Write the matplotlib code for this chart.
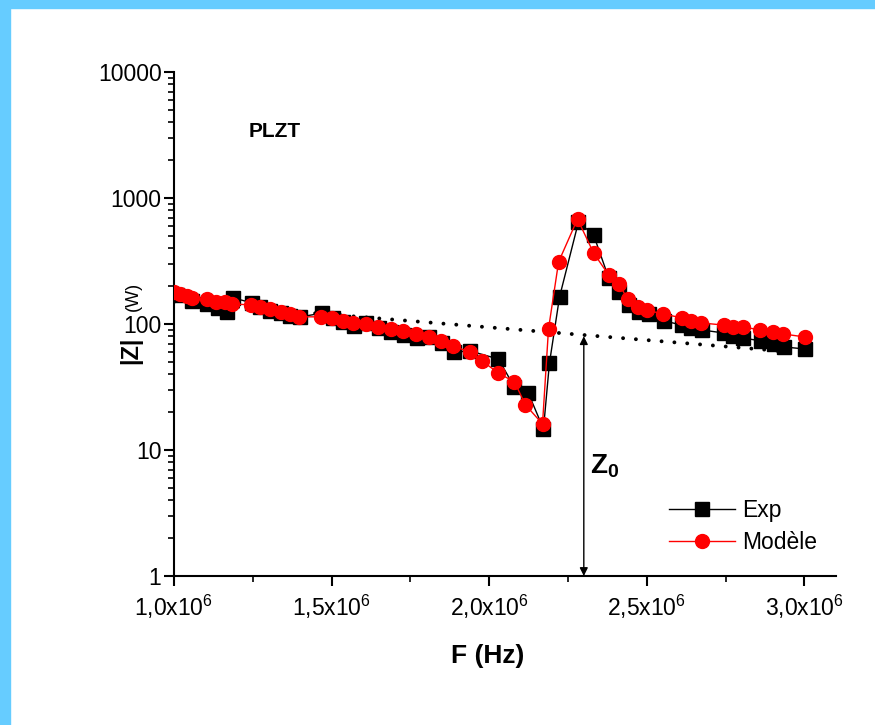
import numpy as np
import matplotlib
matplotlib.use("Agg")
import matplotlib.pyplot as plt
from matplotlib.patches import Rectangle
from matplotlib.ticker import FixedLocator, FuncFormatter, LogLocator, NullFormatter

plt.rcParams['font.family'] = ['Liberation Sans', 'DejaVu Sans']
plt.rcParams['mathtext.fontset'] = 'custom'
plt.rcParams['mathtext.rm'] = 'Liberation Sans'
plt.rcParams['mathtext.bf'] = 'Liberation Sans:bold'

# measured impedance (MHz, ohm)
f_exp = [1.010, 1.057, 1.105, 1.140, 1.169, 1.188, 1.248, 1.274, 1.306, 1.338,
         1.369, 1.401, 1.471, 1.503, 1.535, 1.570, 1.608, 1.650, 1.688, 1.729,
         1.771, 1.809, 1.850, 1.889, 1.939, 2.029, 2.080, 2.124, 2.172, 2.191,
         2.223, 2.283, 2.331, 2.379, 2.411, 2.443, 2.475, 2.506, 2.554, 2.611,
         2.640, 2.675, 2.745, 2.774, 2.806, 2.863, 2.904, 2.936, 3.003]
z_exp = [170, 152, 144, 134, 124.5, 161, 147, 136, 127, 122,
         116, 114, 122, 112, 104, 96.4, 102, 93, 86.4, 81.8,
         77.4, 78.8, 70.7, 59.9, 61.1, 52.7, 31.6, 28.3, 14.7, 49,
         164, 645, 509, 232, 179.5, 142, 124.5, 120, 106, 98,
         93, 89.6, 84.8, 80.3, 77.4, 73.3, 69.4, 65.7, 63.3]

# model
f_mod = [1.000, 1.019, 1.041, 1.057, 1.105, 1.134, 1.162, 1.185, 1.245, 1.274,
         1.306, 1.338, 1.369, 1.398, 1.465, 1.500, 1.535, 1.567, 1.608, 1.646,
         1.688, 1.726, 1.768, 1.809, 1.847, 1.885, 1.939, 1.978, 2.029, 2.080,
         2.115, 2.169, 2.188, 2.220, 2.280, 2.331, 2.379, 2.411, 2.439, 2.471,
         2.500, 2.551, 2.611, 2.640, 2.672, 2.745, 2.774, 2.806, 2.860, 2.901,
         2.933, 3.003]
z_mod = [179.5, 173, 167, 161, 158, 150, 150, 144, 142, 136,
         132, 124.5, 120, 114, 114, 112, 106, 102, 100, 94.7,
         91.3, 88, 83.3, 78.8, 73.3, 66.9, 59.9, 50.8, 40.8, 34.7,
         22.8, 16.1, 91.3, 311, 681, 366, 245, 208, 158, 136,
         129, 120, 112, 106, 102, 98, 94.7, 94.7, 89.6, 86.4,
         83.3, 78.8]

# static impedance baseline
f_base = [1.0, 3.0]
z_base = [150, 59]

f_z0 = 2.3
z0_top = 80

fig = plt.figure(figsize=(8.75, 7.25), dpi=100)
fig.patches.append(Rectangle((0, 0), 10 / 875, 1, transform=fig.transFigure,
                             color='#66ccff', zorder=0))
fig.patches.append(Rectangle((0, 1 - 8 / 725), 1, 8 / 725, transform=fig.transFigure,
                             color='#66ccff', zorder=0))

ax = fig.add_axes([174 / 875, 1 - 576 / 725, 662 / 875, 504 / 725])
ax.set_yscale('log')

fe = np.array(f_exp) * 1e6
fm = np.array(f_mod) * 1e6
ax.plot(fe, z_exp, '-s', color='black', lw=1, ms=10.5, label='Exp', zorder=3)
ax.plot(fm, z_mod, '-o', color='red', lw=1, ms=10, label='Modèle', zorder=4)
ax.plot(np.array(f_base) * 1e6, z_base, color='black', lw=2.8,
        linestyle=(0, (0.01, 3.3)), dash_capstyle='round', zorder=2)

ax.annotate('', xy=(f_z0 * 1e6, z0_top), xytext=(f_z0 * 1e6, 1),
            arrowprops=dict(arrowstyle='<|-|>', color='black', lw=1,
                            mutation_scale=12, shrinkA=0, shrinkB=0))
ax.text(f_z0 * 1e6 + 0.02e6, 10 ** 0.87, r'$\mathbf{Z_0}$', fontsize=20,
        ha='left', va='center')

ax.text(1.32e6, 10 ** 3.53, 'PLZT', fontsize=15, fontweight='bold',
        ha='center', va='center')

ax.set_xlim(1.0e6, 3.1e6)
ax.set_ylim(1, 10000)

ax.xaxis.set_major_locator(FixedLocator([1.0e6, 1.5e6, 2.0e6, 2.5e6, 3.0e6]))
ax.xaxis.set_minor_locator(FixedLocator([1.25e6, 1.75e6, 2.25e6, 2.75e6]))
ax.xaxis.set_major_formatter(FuncFormatter(
    lambda v, p: ('%.1f' % (v / 1e6)).replace('.', ',') + r'x10$^{6}$'))
ax.yaxis.set_major_locator(FixedLocator([1, 10, 100, 1000, 10000]))
ax.yaxis.set_minor_locator(LogLocator(base=10, subs=np.arange(2, 10)))
ax.yaxis.set_minor_formatter(NullFormatter())
ax.yaxis.set_major_formatter(FuncFormatter(lambda v, p: '%d' % v))

for s in ['top', 'right']:
    ax.spines[s].set_visible(False)
for s in ['left', 'bottom']:
    ax.spines[s].set_linewidth(1.5)
ax.tick_params(which='major', direction='out', length=7, width=1.5, labelsize=16.5, pad=5)
ax.tick_params(which='minor', direction='out', length=4, width=1.2)
ax.tick_params(axis='y', which='major', pad=2)

ax.set_xlabel('F (Hz)', fontsize=19, fontweight='bold')
ax.xaxis.set_label_coords((488 - 174) / 662, -0.135)
fig.text(131 / 875, 1 - 350 / 725, '|Z|', rotation=90, fontsize=17,
         fontweight='bold', ha='center', va='center')
fig.text(133 / 875, 1 - 296 / 725, '(W)', rotation=90, fontsize=13,
         ha='center', va='center')

ax.legend(loc='upper left', bbox_to_anchor=(0.73, 0.175), frameon=False,
          fontsize=16.5, handlelength=2.9, handletextpad=0.3, labelspacing=0.4,
          borderpad=0)

fig.savefig('out.png', dpi=100)
